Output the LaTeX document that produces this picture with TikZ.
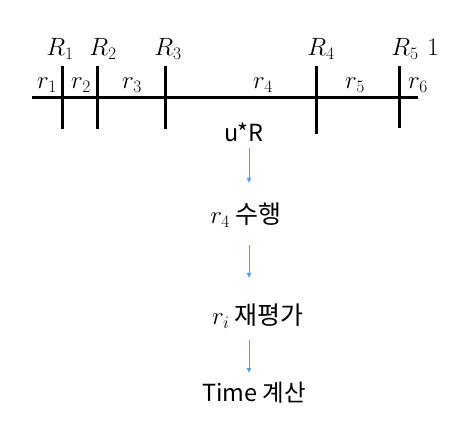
\RequirePackage{fix-cm}
\documentclass[tikz,border=0pt]{standalone}
\usepackage{fontspec}
\newfontfamily\kr{Noto Sans CJK KR}
\usetikzlibrary{arrows.meta}
\definecolor{arrblue}{HTML}{5B9BD5}
\tikzset{
  axis/.style={line width=3pt},
  tick/.style={line width=3pt},
  mlab/.style={inner sep=0pt, anchor=base, font=\fontsize{25}{30}\selectfont},
  txt/.style={inner sep=0pt, minimum height=30pt, font=\kr\fontsize{23.5}{28}\selectfont},
  arr/.style={draw=arrblue, line width=0.8pt, -{Triangle[length=5pt,width=4.5pt]}},
}
\begin{document}
\begin{tikzpicture}[x=1pt,y=-1pt]
\useasboundingbox (0,0) rectangle (476,427);
% axis
\coordinate (L) at (32,98);
\coordinate (Rr) at (418,98);
\draw[axis] (L) -- (Rr);
\coordinate (t1a) at (62,66);  \coordinate (t1b) at (62,129);
\coordinate (t2a) at (97,66);  \coordinate (t2b) at (97,129);
\coordinate (t3a) at (165,66); \coordinate (t3b) at (165,129);
\coordinate (t4a) at (316,66); \coordinate (t4b) at (316,134);
\coordinate (t5a) at (399,66); \coordinate (t5b) at (399,128);
\draw[tick] (t1a) -- (t1b);
\draw[tick] (t2a) -- (t2b);
\draw[tick] (t3a) -- (t3b);
\draw[tick] (t4a) -- (t4b);
\draw[tick] (t5a) -- (t5b);
% upper labels
\node[mlab] (R1) at (60,56) {$R_1$};
\node[mlab] (R2) at (103,56) {$R_2$};
\node[mlab] (R3) at (168,56) {$R_3$};
\node[mlab] (R4) at (321,56) {$R_4$};
\node[mlab] (R5) at (405,56) {$R_5$};
\node[mlab] (one) at (433,56) {$1$};
% lower labels
\node[mlab] (r1) at (47,89) {$r_1$};
\node[mlab] (r2) at (81,89) {$r_2$};
\node[mlab] (r3) at (132,89) {$r_3$};
\node[mlab] (r4) at (263,89) {$r_4$};
\node[mlab] (r5) at (355,89) {$r_5$};
\node[mlab] (r6) at (418,89) {$r_6$};
% flow
\coordinate (ax) at (249,0);
\node[txt] (uR) at (244,132) {u*R};
\node[txt] (run) at (246,215) {\fontsize{25}{30}\selectfont$r_4$ 수행};
\node[txt] (ri) at (258,316) {\fontsize{25}{30}\selectfont$r_i$ 재평가};
\node[txt] (time) at (254,393) {Time 계산};
\draw[arr, shorten <=1pt, shorten >=17pt] (uR.south -| ax) -- (run.north -| ax);
\draw[arr, shorten <=15pt, shorten >=23pt] (run.south -| ax) -- (ri.north -| ax);
\draw[arr, shorten <=9pt, shorten >=5pt] (ri.south -| ax) -- (time.north -| ax);
\end{tikzpicture}
\end{document}
